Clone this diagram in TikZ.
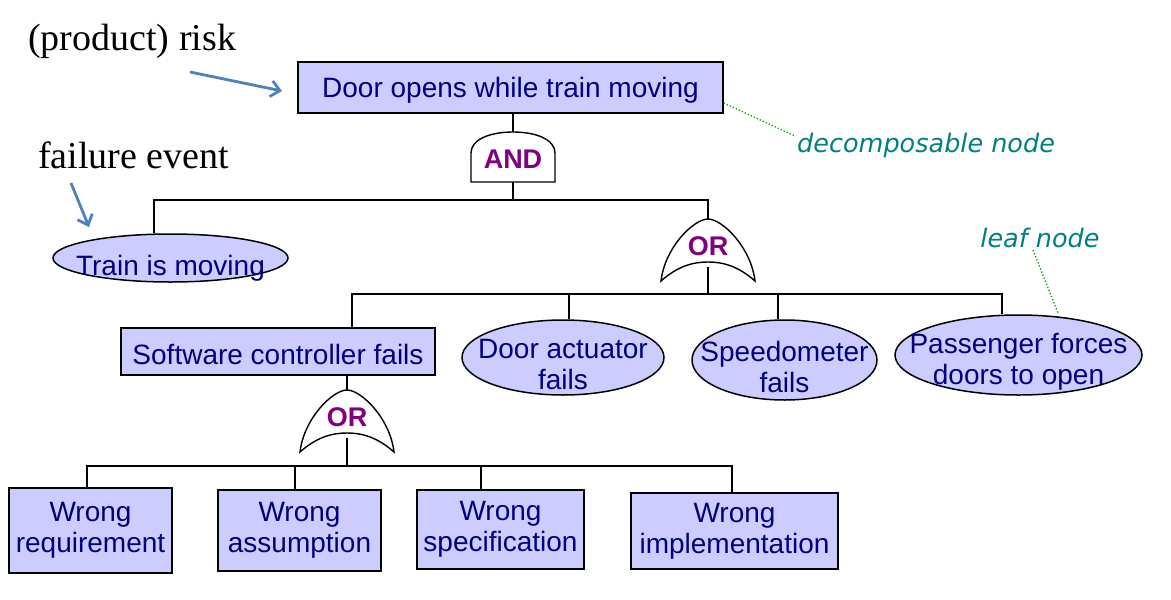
\documentclass[tikz,border=0pt]{standalone}
\usepackage{fontspec}
\setmainfont{Liberation Serif}
\setsansfont{Liberation Sans}
\newfontfamily\notefont{DejaVu Sans}
\usetikzlibrary{shapes.geometric,arrows.meta}
\definecolor{boxfill}{HTML}{CCCCFF}
\definecolor{navytext}{HTML}{000080}
\definecolor{gatetext}{HTML}{800080}
\definecolor{notegreen}{HTML}{008080}
\definecolor{dotgreen}{HTML}{00A000}
\definecolor{arrowblue}{HTML}{4F81BD}
\tikzset{
  evshape/.style={draw=black, line width=1.5pt, fill=boxfill, inner sep=0pt},
  evtext/.style={text=navytext, font=\sffamily\fontsize{28}{31}\selectfont, align=center, inner sep=0pt},
  evbox/.style={evshape, evtext, rectangle, execute at begin node={\rule{0pt}{25.5pt}}},
  evell/.style={evshape, ellipse},
  wire/.style={line width=1.6pt},
  gatetxt/.style={font=\sffamily\bfseries\fontsize{27}{30}\selectfont, text=gatetext, inner sep=0pt},
  note/.style={font=\notefont\itshape\fontsize{25.5}{30}\selectfont, text=notegreen, inner sep=0pt},
  annot/.style={font=\rmfamily\fontsize{38}{44}\selectfont, inner sep=0pt},
  pointer/.style={arrowblue, line width=2.8pt, -{Straight Barb[length=9pt,width=16pt]}},
  leader/.style={dotgreen, dotted, line width=1.3pt},
  orgate/.pic={
    \draw[line width=1.4pt] (-47,62) .. controls (-43,28) and (-14,0) .. (0,0)
      .. controls (14,0) and (43,28) .. (47,62)
      .. controls (30,47) and (15,43) .. (0,43)
      .. controls (-15,43) and (-30,47) .. (-47,62) -- cycle;
    \node[gatetxt] (-lbl) at (0,27) {OR};
    \coordinate (-top) at (0,0);
    \coordinate (-out) at (0,48);
  },
  andgate/.pic={
    \draw[line width=1.4pt] (-42,50) -- (-42,21) .. controls (-42,7) and (-22,0) .. (0,0)
      .. controls (22,0) and (42,7) .. (42,21) -- (42,50) -- cycle;
    \node[gatetxt] (-lbl) at (0,27.5) {AND};
    \coordinate (-top) at (0,0);
    \coordinate (-out) at (0,50);
  }
}
\begin{document}
\begin{tikzpicture}[x=1pt,y=-1pt]
\useasboundingbox (0,0) rectangle (1171,600);

% annotations
\node[annot, anchor=base west] (risk) at (28,50) {(product) risk};
\node[annot, anchor=base west] (fail) at (38,168) {failure event};
\coordinate (a1s) at (190,72);
\coordinate (a1e) at (282,91);
\coordinate (a2s) at (71,183);
\coordinate (a2e) at (89,227);
\draw[pointer] (a1s) -- (a1e);
\draw[pointer] (a2s) -- (a2e);

% top event
\node[evbox, minimum width=425pt, minimum height=51pt] (top) at (510.5,87.5) {Door opens while train moving};
\pic (g0) at (513,132) {andgate};
\draw[wire] (top.south -| g0-top) -- (g0-top);

% level 1
\node[evell, minimum width=235pt, minimum height=48pt] (train) at (170.5,258) {};
\node[evtext] (trainT) at ([yshift=-10pt]train.center) {Train is moving};
\pic (g1) at (708,219) {orgate};
\coordinate (bar1) at (513,200);
\draw[wire] (g0-out) -- (bar1);
\draw[wire] ([xshift=-16.5pt]train.north) |- (bar1) -| (g1-top);

% level 2
\node[evbox, minimum width=314pt, minimum height=47pt] (sw) at (278,351.5) {Software controller fails};
\node[evell, minimum width=202pt, minimum height=75pt] (door) at (563,357.5) {};
\node[evtext] (doorT) at ([yshift=-7pt]door.center) {Door actuator\\fails};
\node[evell, minimum width=185pt, minimum height=80pt] (speed) at (784.5,360) {};
\node[evtext] (speedT) at ([yshift=-6.5pt]speed.center) {Speedometer\\fails};
\node[evell, minimum width=247pt, minimum height=80pt] (pass) at (1018.5,355) {};
\node[evtext] (passT) at ([yshift=-6.5pt]pass.center) {Passenger forces\\doors to open};
\coordinate (bar2) at (708,294);
\draw[wire] (g1-out) -- (bar2);
\draw[wire] ([xshift=74pt]sw.north) |- (bar2) -| ([xshift=-16.5pt]pass.north);
\draw[wire] ([xshift=6pt]door.north) -- ([xshift=6pt]door.north |- bar2);
\draw[wire] ([xshift=-6.5pt]speed.north) -- ([xshift=-6.5pt]speed.north |- bar2);

% level 3
\pic (g2) at (347,390) {orgate};
\draw[wire] (sw.south -| g2-top) -- (g2-top);
\node[evbox, minimum width=163pt, minimum height=85pt] (wr) at (90.5,530.5) {Wrong\\requirement};
\node[evbox, minimum width=163pt, minimum height=81pt] (wa) at (299.5,530.5) {Wrong\\assumption};
\node[evbox, minimum width=167pt, minimum height=79pt] (ws) at (500.5,529.5) {Wrong\\specification};
\node[evbox, minimum width=207pt, minimum height=76pt] (wi) at (734.5,531) {Wrong\\implementation};
\coordinate (bar3) at (347,466);
\draw[wire] (g2-out) -- (bar3);
\draw[wire] ([xshift=-3.5pt]wr.north) |- (bar3) -| ([xshift=-2.5pt]wi.north);
\draw[wire] ([xshift=-4.5pt]wa.north) -- ([xshift=-4.5pt]wa.north |- bar3);
\draw[wire] ([xshift=-19.5pt]ws.north) -- ([xshift=-19.5pt]ws.north |- bar3);

% notes
\node[note, anchor=west] (dec) at (797,145) {decomposable node};
\coordinate (decA) at (795,136);
\draw[leader] ([yshift=-15.5pt]top.east) -- (decA);
\node[note] (leaf) at (1040,238) {leaf node};
\coordinate (leafA) at (1033,250);
\coordinate (leafB) at (1058,313);
\draw[leader] (leafA) -- (leafB);
\end{tikzpicture}
\end{document}
